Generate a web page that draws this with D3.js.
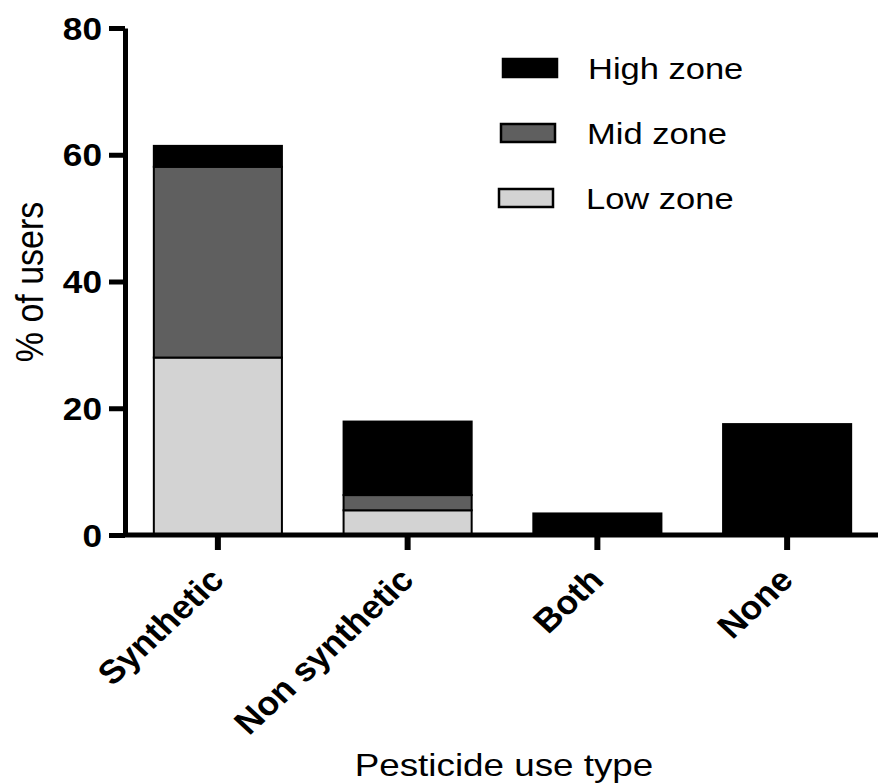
<!DOCTYPE html>
<html>
<head>
<meta charset="utf-8">
<script src="https://cdn.jsdelivr.net/npm/d3@7"></script>
<style>
  html, body { margin: 0; padding: 0; background: #fff; }
  svg { display: block; font-family: "Liberation Sans", Arial, sans-serif; }
</style>
</head>
<body>
<svg id="chart" width="878" height="784"></svg>
<script>
// ---- data ----
const categories = ["Synthetic", "Non synthetic", "Both", "None"];
const lowZone  = [28.0, 3.9, 0, 0];
const midZone  = [30.1, 2.4, 0, 0];
const highZone = [3.3, 11.6, 3.4, 17.5];
const seriesNames = ["Low zone", "Mid zone", "High zone"];
const yTicks = [0, 20, 40, 60, 80];
const xTitle = "Pesticide use type";
const yTitle = "% of users";

// ---- styles ----
const colors = { "Low zone": "#d3d3d3", "Mid zone": "#5f5f5f", "High zone": "#000000" };
const SX = 1.15; // horizontal stretch of the text in the reference

const svg = d3.select("#chart");

const rows = categories.map((c, i) => ({
  cat: c, "Low zone": lowZone[i], "Mid zone": midZone[i], "High zone": highZone[i]
}));
const stacked = d3.stack().keys(seriesNames)(rows);

const x = d3.scaleBand().domain(categories).range([123, 882]).paddingInner(0.325).paddingOuter(0.1625);
const y = d3.scaleLinear().domain([0, 80]).range([535, 28]);

// bars
svg.append("g").selectAll("g")
  .data(stacked)
  .join("g")
  .attr("fill", d => colors[d.key])
  .selectAll("rect")
  .data(d => d.filter(s => s[1] - s[0] > 0))
  .join("rect")
  .attr("x", d => x(d.data.cat))
  .attr("width", x.bandwidth())
  .attr("y", d => y(d[1]))
  .attr("height", d => y(d[0]) - y(d[1]))
  .attr("stroke", "#000")
  .attr("stroke-width", 2);

// y axis
const yAxis = svg.append("g").attr("transform", "translate(125,0)")
  .call(d3.axisLeft(y).tickValues(yTicks).tickSize(16).tickSizeOuter(0).tickPadding(7));
yAxis.select(".domain").attr("stroke-width", 5).attr("stroke", "#000");
yAxis.selectAll(".tick line").attr("stroke-width", 5).attr("stroke", "#000");
yAxis.selectAll(".tick text")
  .attr("font-size", 32).attr("font-weight", "bold").attr("fill", "#000")
  .attr("font-family", "'Liberation Sans', Arial, sans-serif")
  .attr("x", null).attr("dy", null)
  .attr("transform", "translate(-23,11) scale(1.1,1)");

// x axis
const xAxis = svg.append("g").attr("transform", "translate(0,535)")
  .call(d3.axisBottom(x).tickSize(15).tickSizeOuter(0).tickFormat(""));
xAxis.select(".domain").attr("stroke-width", 5).attr("stroke", "#000")
  .attr("d", "M123,0H878");
xAxis.selectAll(".tick line").attr("stroke-width", 6).attr("stroke", "#000");

// rotated x labels
svg.append("g").selectAll("text")
  .data(categories)
  .join("text")
  .attr("transform", d => `translate(${x(d) + x.bandwidth() / 2 + 8},582) scale(1.08,1) rotate(-45)`)
  .attr("text-anchor", "end")
  .attr("font-size", 33)
  .attr("font-weight", "bold")
  .attr("fill", "#000")
  .text(d => d);

// axis titles
svg.append("text")
  .attr("transform", `translate(504,776) scale(${SX},1)`)
  .attr("text-anchor", "middle")
  .attr("font-size", 32)
  .attr("fill", "#000")
  .text(xTitle);

svg.append("text")
  .attr("transform", `translate(43,282) scale(${SX},1) rotate(-90)`)
  .attr("text-anchor", "middle")
  .attr("font-size", 34)
  .attr("fill", "#000")
  .text(yTitle);

// legend
const legendOrder = ["High zone", "Mid zone", "Low zone"];
const lg = svg.append("g").selectAll("g")
  .data(legendOrder)
  .join("g")
  .attr("transform", (d, i) => `translate(0,${58 + i * 65})`);
lg.append("rect")
  .attr("x", (d, i) => 503 - i * 2)
  .attr("y", 1)
  .attr("width", 54)
  .attr("height", 18)
  .attr("fill", d => colors[d])
  .attr("stroke", "#000")
  .attr("stroke-width", 2.5);
lg.append("text")
  .attr("transform", (d, i) => `translate(${588 - i},21) scale(${SX},1)`)
  .attr("font-size", 30)
  .attr("fill", "#000")
  .text(d => d);
</script>
</body>
</html>
